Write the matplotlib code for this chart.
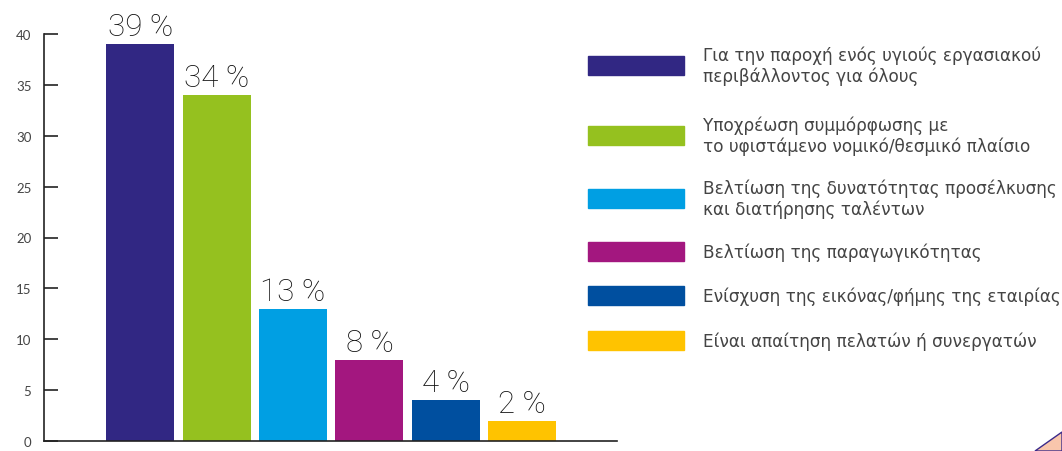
import matplotlib
matplotlib.use("Agg")
import matplotlib.pyplot as plt
from matplotlib.patches import Rectangle, Polygon

# ------------------------------------------------------------------
# Data
# ------------------------------------------------------------------
categories = [
    "Για την παροχή ενός υγιούς εργασιακού\nπεριβάλλοντος για όλους",
    "Υποχρέωση συμμόρφωσης με\nτο υφιστάμενο νομικό/θεσμικό πλαίσιο",
    "Βελτίωση της δυνατότητας προσέλκυσης\nκαι διατήρησης ταλέντων",
    "Βελτίωση της παραγωγικότητας",
    "Ενίσχυση της εικόνας/φήμης της εταιρίας",
    "Είναι απαίτηση πελατών ή συνεργατών",
]
values = [39, 34, 13, 8, 4, 2]
colors = ["#312783", "#95C11F", "#009FE3", "#A3177F", "#004F9F", "#FFC300"]
yticks = [0, 5, 10, 15, 20, 25, 30, 35, 40]

plt.rcParams["font.family"] = ["Lato", "DejaVu Sans"]

W, H = 1062, 452
fig = plt.figure(figsize=(W / 100, H / 100), dpi=100)
ax = fig.add_axes([44 / W, 10 / H, 573 / W, 407 / H])

x = list(range(len(values)))
bars = ax.bar(x, values, width=0.89, color=colors)
ax.set_xlim(-1.26, 6.24)
ax.set_ylim(0, 40)

for xi, v in zip(x, values):
    ax.text(xi, v + 0.3, f"{v} %", ha="center", va="bottom",
            fontsize=22.5, color="#111111", family=["Roboto", "Lato"],
            fontweight="light")

ax.set_yticks(yticks)
ax.set_yticklabels([str(t) for t in yticks], fontsize=9.5, color="#444444")
ax.tick_params(axis="y", direction="in", length=10, width=1.2, pad=9,
               color="#222222")
ax.set_xticks([])
for s in ["top", "right"]:
    ax.spines[s].set_visible(False)
for s in ["left", "bottom"]:
    ax.spines[s].set_color("#222222")
    ax.spines[s].set_linewidth(1.2)

# legend (drawn manually to follow the reference layout)
patch_tops = [57, 127, 190, 243, 287, 332]
for top, col, lab in zip(patch_tops, colors, categories):
    fig.patches.append(Rectangle((588 / W, 1 - (top + 19) / H), 96 / W, 19 / H,
                                 transform=fig.transFigure, color=col))
    fig.text(703 / W, 1 - (top + 9.5) / H, lab, ha="left", va="center",
             fontsize=12.2, color="#444444", linespacing=1.15,
             family=["DejaVu Sans"])

# corner decoration
fig.patches.append(Polygon([(1035 / W, 0), (1, 19 / H), (1, 0)], closed=True,
                           transform=fig.transFigure, facecolor="#F9C6AC",
                           edgecolor="#3B2A8A", linewidth=1))

fig.savefig("out.png", dpi=100)
